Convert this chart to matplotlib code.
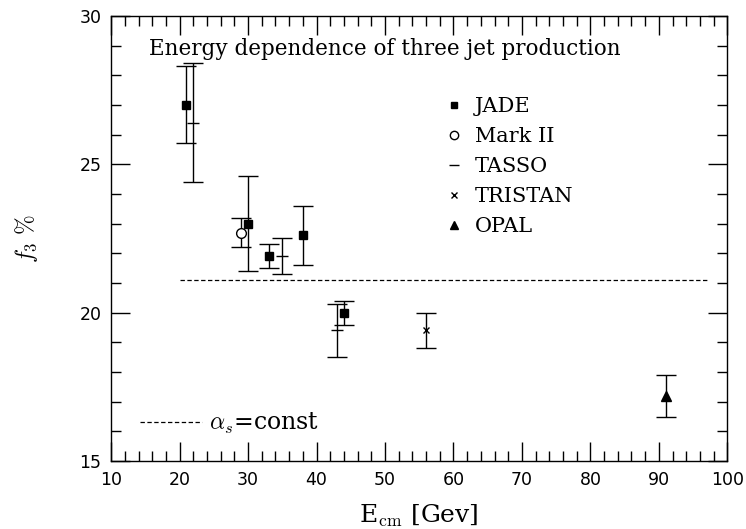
import matplotlib
matplotlib.use("Agg")
import matplotlib.pyplot as plt
from matplotlib.lines import Line2D
from matplotlib.ticker import MultipleLocator

# data (E_cm in GeV, f3 in %)
jade_x = [21, 30, 33, 38, 44]
jade_y = [27.0, 23.0, 21.9, 22.6, 20.0]
jade_err = [1.3, 1.6, 0.4, 1.0, 0.4]

mark2_x = [29]
mark2_y = [22.7]
mark2_err = [0.5]

tasso_x = [22, 35, 43]
tasso_y = [26.4, 21.9, 19.4]
tasso_err = [2.0, 0.6, 0.9]

tristan_x = [56]
tristan_y = [19.4]
tristan_err = [0.6]

opal_x = [91]
opal_y = [17.2]
opal_err = [0.7]

const_x = [20, 97]
const_y = [21.1, 21.1]

serif = "DejaVu Serif"
plt.rcParams["mathtext.fontset"] = "cm"

fig = plt.figure(figsize=(7.46, 5.29), dpi=100)
ax = fig.add_axes([0.149, 0.1285, 0.826, 0.8415])

eb = dict(color="black", ecolor="black", elinewidth=1.0, capsize=7, capthick=1.0, linestyle="none")
ax.errorbar(jade_x, jade_y, yerr=jade_err, marker="s", markersize=6, **eb)
ax.errorbar(mark2_x, mark2_y, yerr=mark2_err, marker="o", markersize=7, markerfacecolor="white", markeredgewidth=1.0, **eb)
ax.errorbar(tasso_x, tasso_y, yerr=tasso_err, marker="_", markersize=9, markeredgewidth=1.0, **eb)
ax.errorbar(tristan_x, tristan_y, yerr=tristan_err, marker="x", markersize=5, markeredgewidth=1.0, **eb)
ax.errorbar(opal_x, opal_y, yerr=opal_err, marker="^", markersize=7, **eb)
ax.plot(const_x, const_y, color="black", linestyle=(0, (3.5, 2)), linewidth=0.9)

ax.set_xlim(10, 100)
ax.set_ylim(15, 30)
ax.xaxis.set_major_locator(MultipleLocator(10))
ax.xaxis.set_minor_locator(MultipleLocator(2))
ax.yaxis.set_major_locator(MultipleLocator(5))
ax.yaxis.set_minor_locator(MultipleLocator(1))
ax.tick_params(which="both", direction="in", top=True, right=True, width=1.0, labelsize=12.5, pad=7)
ax.tick_params(which="major", length=14)
ax.tick_params(which="minor", length=7)
for s in ax.spines.values():
    s.set_linewidth(1.0)

ax.text(50, 28.9, "Energy dependence of three jet production", ha="center", va="center",
        fontsize=15.5, family=serif)

handles = [
    Line2D([], [], color="black", marker="s", markersize=5, linestyle="none"),
    Line2D([], [], color="black", marker="o", markersize=6, markerfacecolor="white", linestyle="none"),
    Line2D([], [], color="black", marker="_", markersize=7, linestyle="none"),
    Line2D([], [], color="black", marker="x", markersize=5, linestyle="none"),
    Line2D([], [], color="black", marker="^", markersize=6, linestyle="none"),
]
labels = ["JADE", "Mark II", "TASSO", "TRISTAN", "OPAL"]
leg = ax.legend(handles, labels, loc="upper left", bbox_to_anchor=(0.513, 0.86), frameon=False,
                prop={"family": serif, "size": 15}, handlelength=0.8, handletextpad=0.6,
                labelspacing=0.53)
ax.add_artist(leg)

leg2 = ax.legend([Line2D([], [], color="black", linestyle=(0, (3.5, 2)), linewidth=0.9)],
                 [r"$\alpha_s$=const"], loc="lower left", bbox_to_anchor=(0.012, 0.008),
                 frameon=False, prop={"family": serif, "size": 17}, handlelength=2.65,
                 handletextpad=0.3)

ax.set_xlabel(r"E$_{\rm cm}$ [Gev]", family=serif, fontsize=18)
ax.xaxis.set_label_coords(0.5, -0.094)
ax.set_ylabel(r"$f_3\ \%$", fontsize=17)
ax.yaxis.set_label_coords(-0.115, 0.5)

fig.savefig("out.png", dpi=100)
